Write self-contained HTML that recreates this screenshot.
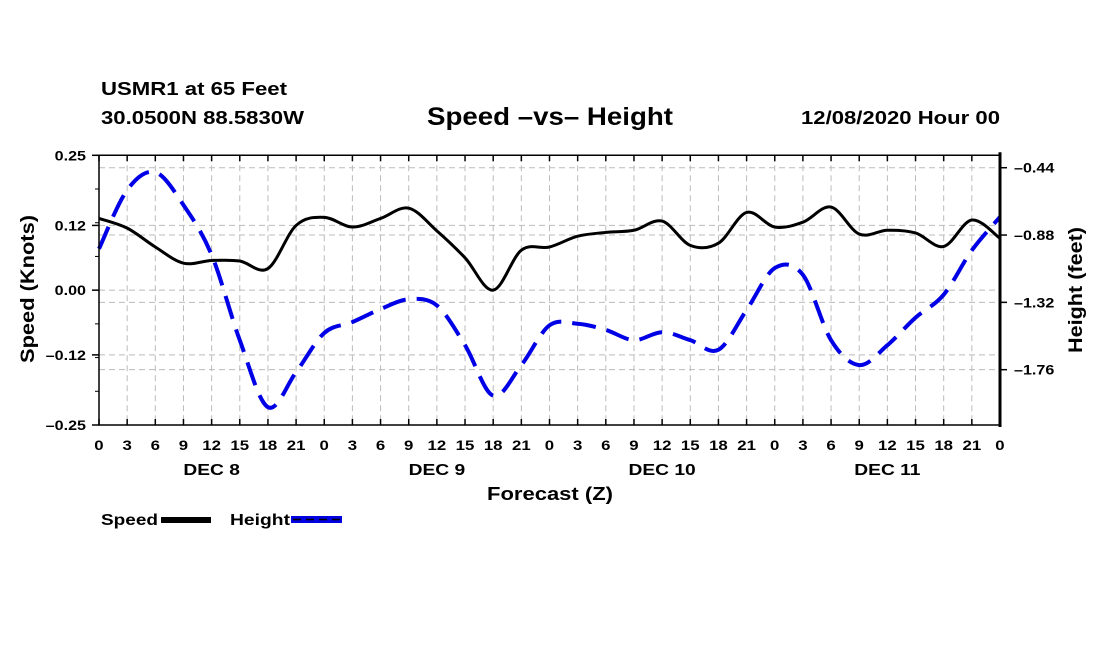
<!DOCTYPE html>
<html><head><meta charset="utf-8"><style>
html,body{margin:0;padding:0;background:#fff;}
svg{display:block;font-family:"Liberation Sans",Arial,sans-serif;font-weight:bold;}
</style></head><body>
<svg id="chart" width="1100" height="650" viewBox="0 0 1100 650" xmlns="http://www.w3.org/2000/svg">
<text x="101" y="95" font-size="18" textLength="186" lengthAdjust="spacingAndGlyphs">USMR1 at 65 Feet</text>
<text x="101" y="124" font-size="18" textLength="203" lengthAdjust="spacingAndGlyphs">30.0500N 88.5830W</text>
<text x="427" y="125" font-size="25" textLength="246" lengthAdjust="spacingAndGlyphs">Speed –vs– Height</text>
<text x="801" y="124" font-size="18" textLength="199" lengthAdjust="spacingAndGlyphs">12/08/2020 Hour 00</text>
<g id="grid"></g>
<g id="series"></g>
<g id="axes"></g>
<text x="487" y="500" font-size="18" textLength="126" lengthAdjust="spacingAndGlyphs">Forecast (Z)</text>
<text transform="translate(34,363) rotate(-90)" font-size="19" textLength="148" lengthAdjust="spacingAndGlyphs">Speed (Knots)</text>
<text transform="translate(1082,353) rotate(-90)" font-size="19" textLength="126" lengthAdjust="spacingAndGlyphs">Height (feet)</text>
<g>
<text x="101" y="525" font-size="16" textLength="57" lengthAdjust="spacingAndGlyphs">Speed</text>
<rect x="161" y="517" width="50" height="6" fill="#000"/>
<text x="230" y="525" font-size="16" textLength="60" lengthAdjust="spacingAndGlyphs">Height</text>
<rect x="291" y="516" width="51" height="7" fill="#0000e0"/>
<line x1="293" y1="519.5" x2="340" y2="519.5" stroke="#000" stroke-width="1.5" stroke-dasharray="8,5"/>
</g>
</svg>
<script>
const hours = [0,3,6,9,12,15,18,21,24,27,30,33,36,39,42,45,48,51,54,57,60,63,66,69,72,75,78,81,84,87,90,93,96];
const speedValues = [0.133,0.115,0.08,0.05,0.055,0.054,0.04,0.12,0.135,0.117,0.133,0.152,0.11,0.06,0.0,0.074,0.08,0.1,0.107,0.111,0.128,0.083,0.087,0.144,0.117,0.126,0.154,0.104,0.111,0.106,0.081,0.13,0.096];
const heightValues = [-0.97,-0.586,-0.47,-0.684,-1.01,-1.567,-2.005,-1.776,-1.52,-1.449,-1.364,-1.30,-1.34,-1.60,-1.93,-1.73,-1.47,-1.46,-1.50,-1.567,-1.515,-1.567,-1.63,-1.37,-1.096,-1.14,-1.567,-1.73,-1.60,-1.42,-1.27,-0.98,-0.762];
const xTickLabels = ["0","3","6","9","12","15","18","21"];
const dayLabels = ["DEC 8","DEC 9","DEC 10","DEC 11"];
const leftTicks = [0.25,0.12,0.00,-0.12,-0.25];
const rightTicks = [-0.44,-0.88,-1.32,-1.76];

const X0=99, X1=1000, Y0=155.3, Y1=425;
const LMAX=0.25, LMIN=-0.25;
const RMAX=-0.44+(167.7-155.3)/67.3*0.44, RMIN=-1.76-(425-369.7)/67.3*0.44;
const xs = h => X0 + h/96*(X1-X0);
const yl = v => Y0 + (LMAX-v)/(LMAX-LMIN)*(Y1-Y0);
const yr = v => Y0 + (RMAX-v)/(RMAX-RMIN)*(Y1-Y0);
const NS="http://www.w3.org/2000/svg";
function mk(tag, parent, attrs){const e=document.createElementNS(NS,tag);for(const k in attrs)e.setAttribute(k,attrs[k]);parent.appendChild(e);return e;}
function widen(t,f){const w=t.getComputedTextLength();t.setAttribute('textLength',w*f);t.setAttribute('lengthAdjust','spacingAndGlyphs');}
const fmt = v => (v<0?'–':'')+Math.abs(v).toFixed(2);
const grid=document.getElementById('grid'), axes=document.getElementById('axes'), series=document.getElementById('series');
const gs={stroke:"#bbb","stroke-width":1,"stroke-dasharray":"6,4",fill:"none"};
for(let h=0;h<=96;h+=3){
  const x=xs(h);
  if(h>0&&h<96){const g=mk('line',grid,Object.assign({x1:x,y1:Y0,x2:x,y2:Y1},gs));
  
  }
  const t=mk('line',axes,{x1:x,y1:Y1,x2:x,y2:Y1-6,stroke:"#000","stroke-width":1.5});
  
  
  const t2=mk('line',axes,{x1:x,y1:Y0,x2:x,y2:Y0+6,stroke:"#000","stroke-width":1.5});
  
  
  const lb=mk('text',axes,{x:x,y:450,"font-size":14,"text-anchor":"middle"});
  lb.textContent=xTickLabels[(h/3)%8];
  
  
  widen(lb,1.2);
}
dayLabels.forEach((d,i)=>{const t=mk('text',axes,{x:xs(12+24*i),y:475,"font-size":16,"text-anchor":"middle"});t.textContent=d;


widen(t,1.2);});
leftTicks.forEach(v=>{const y=yl(v);
  if(v<LMAX&&v>LMIN){const g=mk('line',grid,Object.assign({x1:X0,y1:y,x2:X1,y2:y},gs));
  
  }
  const t=mk('line',axes,{x1:X0,y1:y,x2:X0-7,y2:y,stroke:"#000","stroke-width":1.5});
  
  
  const lb=mk('text',axes,{x:86,y:y+5,"font-size":14,"text-anchor":"end"});lb.textContent=fmt(v);
  
  
  widen(lb,1.15);
});
for(let v=-0.25;v<=0.25;v+=0.0625){const y=yl(v);const t=mk('line',axes,{x1:X0,y1:y,x2:X0-4,y2:y,stroke:"#000","stroke-width":1});

}
rightTicks.forEach(v=>{const y=yr(v);
  const g=mk('line',grid,Object.assign({x1:X0,y1:y,x2:X1,y2:y},gs));
  
  
  const t=mk('line',axes,{x1:X1,y1:y,x2:X1+7,y2:y,stroke:"#000","stroke-width":1.5});
  
  
  const lb=mk('text',axes,{x:1014,y:y+5,"font-size":14});lb.textContent=fmt(v);
  
  
  widen(lb,1.15);
});
const frame=mk('path',axes,{d:`M${X0},${Y0}H${X1}M${X0},${Y0}V${Y1}H${X1}`,stroke:"#000","stroke-width":1.5,fill:"none"});


const rax=mk('line',axes,{x1:X1,y1:Y0-3,x2:X1,y2:Y1+2,stroke:"#000","stroke-width":3});


function smooth(pts){let d=`M${pts[0][0]},${pts[0][1]}`;
  for(let i=0;i<pts.length-1;i++){const p0=pts[Math.max(0,i-1)],p1=pts[i],p2=pts[i+1],p3=pts[Math.min(pts.length-1,i+2)];
    d+=`C${p1[0]+(p2[0]-p0[0])/6},${p1[1]+(p2[1]-p0[1])/6} ${p2[0]-(p3[0]-p1[0])/6},${p2[1]-(p3[1]-p1[1])/6} ${p2[0]},${p2[1]}`;}
  return d;}
const sp=mk('path',series,{d:smooth(hours.map((h,i)=>[xs(h),yl(speedValues[i])])),stroke:"#000","stroke-width":3,fill:"none"});


const hp=mk('path',series,{d:smooth(hours.map((h,i)=>[xs(h),yr(heightValues[i])])),stroke:"#0000e6","stroke-width":4,fill:"none","stroke-dasharray":"24,11"});


</script>
</body></html>
